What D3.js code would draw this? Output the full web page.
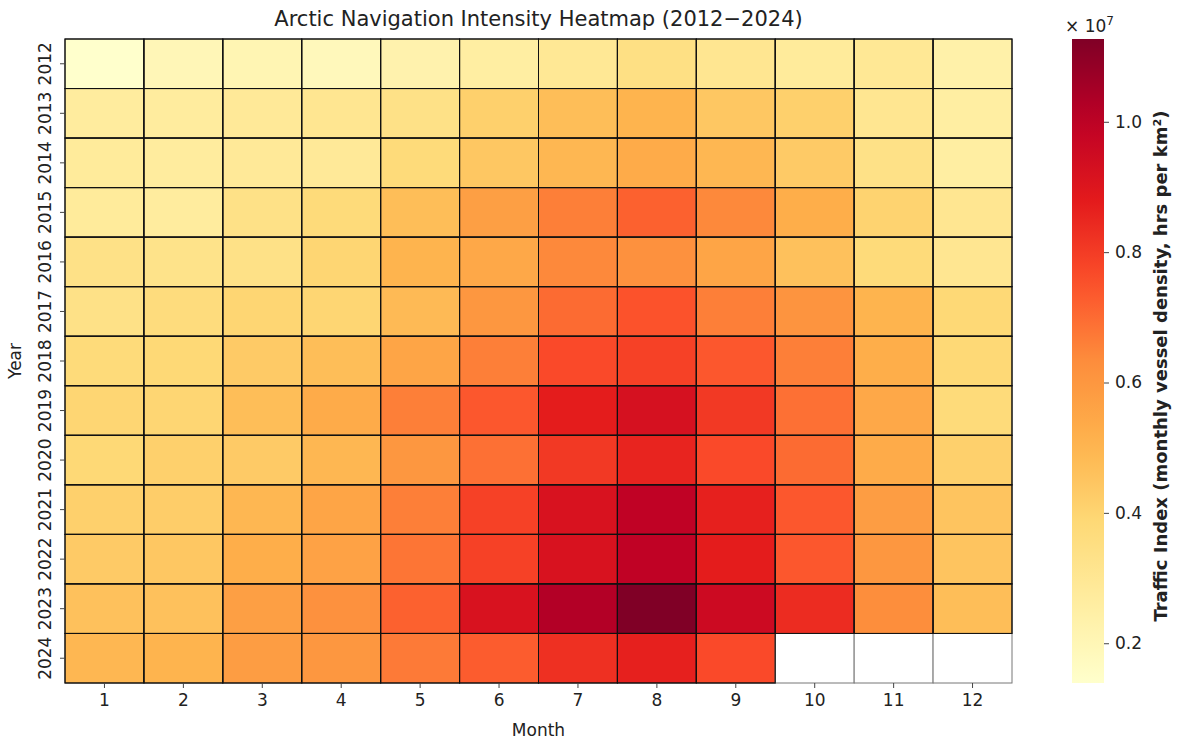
<!DOCTYPE html>
<html>
<head>
    <title>Arctic Navigation Intensity Heatmap</title>
    <style>
        body { margin: 0; background: #fff; }
        text { font-family: "DejaVu Sans", sans-serif; fill: #222; }
    </style>
</head>
<body>
<script src="https://d3js.org/d3.v7.min.js"></script>
<script>
    var width = 1178,
        height = 744,
        fontSize = '17px';

    // categories
    var months = [1, 2, 3, 4, 5, 6, 7, 8, 9, 10, 11, 12];
    var years = [2012, 2013, 2014, 2015, 2016, 2017, 2018, 2019, 2020, 2021, 2022, 2023, 2024];

    // traffic index per year, one value per month, null = no data yet
    var y2012 = [1.39e6, 1.98e6, 2.08e6, 1.88e6, 2.27e6, 2.57e6, 2.96e6, 3.45e6, 3.06e6, 2.77e6, 2.96e6, 2.37e6];
    var y2013 = [2.67e6, 2.67e6, 2.86e6, 3.06e6, 3.36e6, 4.14e6, 4.73e6, 5.03e6, 4.44e6, 4.14e6, 3.06e6, 2.57e6];
    var y2014 = [2.77e6, 2.67e6, 2.86e6, 2.86e6, 3.75e6, 4.44e6, 4.93e6, 5.32e6, 4.93e6, 4.34e6, 3.36e6, 2.57e6];
    var y2015 = [2.77e6, 2.67e6, 3.36e6, 3.75e6, 4.73e6, 5.72e6, 6.60e6, 7.19e6, 6.40e6, 5.22e6, 4.04e6, 3.06e6];
    var y2016 = [3.36e6, 3.26e6, 3.36e6, 3.95e6, 5.03e6, 5.42e6, 6.40e6, 6.21e6, 5.52e6, 4.63e6, 3.75e6, 3.06e6];
    var y2017 = [3.36e6, 3.65e6, 3.95e6, 3.95e6, 4.83e6, 6.01e6, 6.99e6, 7.48e6, 6.60e6, 6.11e6, 5.03e6, 3.85e6];
    var y2018 = [3.75e6, 3.85e6, 4.34e6, 4.73e6, 5.52e6, 6.60e6, 7.68e6, 7.88e6, 7.39e6, 6.60e6, 5.22e6, 3.85e6];
    var y2019 = [3.95e6, 3.95e6, 4.73e6, 5.32e6, 6.60e6, 7.39e6, 8.76e6, 9.25e6, 8.07e6, 6.89e6, 5.42e6, 3.75e6];
    var y2020 = [3.85e6, 4.14e6, 4.34e6, 4.93e6, 6.01e6, 6.89e6, 8.07e6, 8.57e6, 7.68e6, 6.99e6, 5.32e6, 4.14e6];
    var y2021 = [4.14e6, 4.24e6, 4.93e6, 5.52e6, 6.60e6, 7.88e6, 9.16e6, 9.94e6, 8.66e6, 7.39e6, 5.81e6, 4.54e6];
    var y2022 = [4.34e6, 4.44e6, 5.22e6, 5.62e6, 6.80e6, 7.88e6, 9.16e6, 9.94e6, 8.76e6, 7.39e6, 6.01e6, 4.54e6];
    var y2023 = [4.63e6, 4.63e6, 5.72e6, 6.21e6, 7.19e6, 9.16e6, 10.24e6, 11.27e6, 9.55e6, 8.37e6, 6.31e6, 4.73e6];
    var y2024 = [4.93e6, 5.03e6, 5.81e6, 6.01e6, 6.70e6, 7.29e6, 8.27e6, 8.66e6, 7.68e6, null, null, null];

    var rows = [y2012, y2013, y2014, y2015, y2016, y2017, y2018, y2019, y2020, y2021, y2022, y2023, y2024];

    // colorbar ticks (in units of 1e7)
    var cbarTicks = [0.2, 0.4, 0.6, 0.8, 1.0];

    var cells = [];
    rows.forEach(function (r, i) {
        r.forEach(function (v, j) {
            cells.push({year: years[i], month: months[j], value: v});
        });
    });

    var values = cells.filter(function (d) { return d.value != null; }).map(function (d) { return d.value; });
    var vmin = d3.min(values),
        vmax = d3.max(values);

    // matplotlib YlOrRd stops
    var ylorrd = ['#ffffcc', '#ffeda0', '#fed976', '#feb24c', '#fd8d3c', '#fc4e2a', '#e31a1c', '#bd0026', '#800026'];
    var color = d3.scaleLinear()
        .domain(ylorrd.map(function (c, i) { return vmin + (vmax - vmin) * i / (ylorrd.length - 1); }))
        .range(ylorrd)
        .interpolate(d3.interpolateRgb)
        .clamp(true);

    var plot = {left: 65, right: 1012, top: 39, bottom: 683};

    var x = d3.scaleBand().domain(months).range([plot.left, plot.right]).padding(0);
    var y = d3.scaleBand().domain(years).range([plot.top, plot.bottom]).padding(0);

    var svg = d3.select('body').append('svg')
        .attr('width', width)
        .attr('height', height);

    // cells
    svg.append('g').selectAll('rect')
        .data(cells)
        .enter().append('rect')
        .attr('x', function (d) { return x(d.month); })
        .attr('y', function (d) { return y(d.year); })
        .attr('width', x.bandwidth())
        .attr('height', y.bandwidth())
        .style('fill', function (d) { return d.value == null ? '#fff' : color(d.value); })
        .style('stroke', function (d) { return d.value == null ? '#777' : '#111'; })
        .style('stroke-width', 1);

    // redraw data-cell outlines on top so the dark lines win over grey ones
    svg.append('g').selectAll('rect')
        .data(cells.filter(function (d) { return d.value != null; }))
        .enter().append('rect')
        .attr('x', function (d) { return x(d.month); })
        .attr('y', function (d) { return y(d.year); })
        .attr('width', x.bandwidth())
        .attr('height', y.bandwidth())
        .style('fill', 'none')
        .style('stroke', '#111')
        .style('stroke-width', 1);

    // axes
    var xAxis = svg.append('g')
        .attr('transform', 'translate(0,' + plot.bottom + ')')
        .call(d3.axisBottom(x).tickSize(5).tickPadding(6));
    xAxis.select('.domain').remove();
    xAxis.selectAll('.tick line').style('stroke', '#444');
    xAxis.selectAll('.tick text').style('font-size', fontSize).style('fill', '#222')
        .style('font-family', '"DejaVu Sans", sans-serif');

    var yAxis = svg.append('g')
        .attr('transform', 'translate(' + plot.left + ',0)')
        .call(d3.axisLeft(y).tickSize(5).tickPadding(0));
    yAxis.select('.domain').remove();
    yAxis.selectAll('.tick line').style('stroke', '#444');
    yAxis.selectAll('.tick text')
        .attr('x', null).attr('dy', null)
        .attr('transform', 'translate(-14,0) rotate(-90)')
        .attr('text-anchor', 'middle')
        .style('font-size', fontSize).style('fill', '#222')
        .style('font-family', '"DejaVu Sans", sans-serif');

    svg.append('text')
        .attr('x', (plot.left + plot.right) / 2)
        .attr('y', 26)
        .attr('text-anchor', 'middle')
        .style('font-size', '21px')
        .text('Arctic Navigation Intensity Heatmap (2012\u22122024)');

    svg.append('text')
        .attr('x', (plot.left + plot.right) / 2)
        .attr('y', 736)
        .attr('text-anchor', 'middle')
        .style('font-size', fontSize)
        .text('Month');

    svg.append('text')
        .attr('transform', 'translate(21,' + (plot.top + plot.bottom) / 2 + ') rotate(-90)')
        .attr('text-anchor', 'middle')
        .style('font-size', fontSize)
        .text('Year');

    // colorbar
    var cb = {left: 1072, width: 32};
    var cScale = d3.scaleLinear().domain([vmin / 1e7, vmax / 1e7]).range([plot.bottom, plot.top]);

    var defs = svg.append('defs');
    var grad = defs.append('linearGradient')
        .attr('id', 'cbar')
        .attr('x1', 0).attr('y1', 1).attr('x2', 0).attr('y2', 0);
    d3.range(0, 1.0001, 0.05).forEach(function (t) {
        grad.append('stop')
            .attr('offset', t)
            .attr('stop-color', color(vmin + t * (vmax - vmin)));
    });
    svg.append('rect')
        .attr('x', cb.left)
        .attr('y', plot.top)
        .attr('width', cb.width)
        .attr('height', plot.bottom - plot.top)
        .style('fill', 'url(#cbar)');

    var cAxis = svg.append('g')
        .attr('transform', 'translate(' + (cb.left + cb.width) + ',0)')
        .call(d3.axisRight(cScale).tickValues(cbarTicks).tickFormat(d3.format('.1f')).tickSize(5).tickPadding(6));
    cAxis.select('.domain').remove();
    cAxis.selectAll('.tick line').style('stroke', '#444');
    cAxis.selectAll('.tick text').style('font-size', fontSize).style('fill', '#222')
        .style('font-family', '"DejaVu Sans", sans-serif');

    var mult = svg.append('text')
        .attr('x', cb.left - 7)
        .attr('y', 32)
        .style('font-size', fontSize);
    mult.append('tspan').text('\u00d7 10');
    mult.append('tspan').attr('dy', -7).style('font-size', '12px').text('7');

    svg.append('text')
        .attr('transform', 'translate(1167,366) rotate(-90)')
        .attr('text-anchor', 'middle')
        .style('font-size', '18px')
        .style('font-weight', 'bold')
        .text('Traffic Index (monthly vessel density, hrs per km\u00b2)');
</script>
</body>
</html>
